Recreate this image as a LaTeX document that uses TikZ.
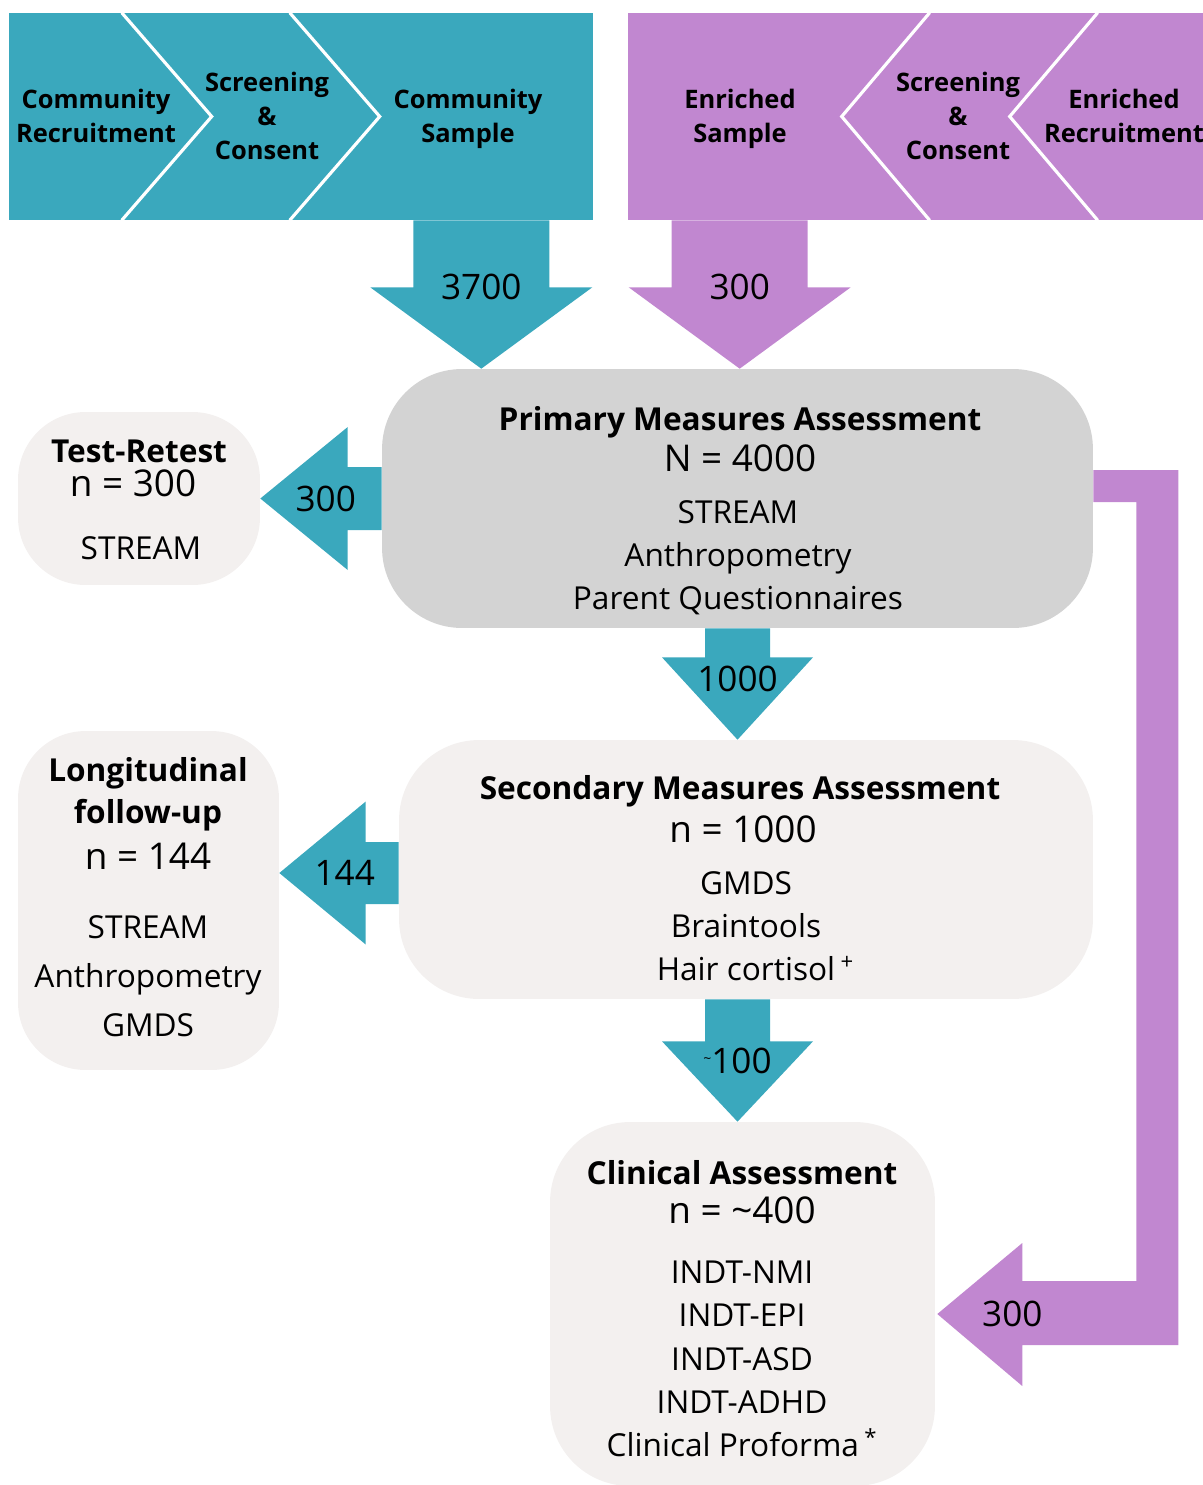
\documentclass[tikz,border=0pt]{standalone}
\usepackage{fontspec}
\setmainfont{Open Sans}
\usetikzlibrary{positioning}
\usetikzlibrary{calc}
\definecolor{flowteal}{RGB}{58,168,189}
\definecolor{flowpurple}{RGB}{193,135,208}
\definecolor{primgray}{RGB}{211,211,211}
\definecolor{boxwhite}{RGB}{243,240,239}
\tikzset{stagebox/.style={ % rounded boxes of the assessments
draw=none, inner sep=0pt,
fill=boxwhite,
rounded corners=1.6cm},
banner/.style={draw=none, inner sep=0pt, minimum height=4.14cm}, % recruitment strips
divider/.style={draw=white, line width=1.8pt}, % chevron cuts in the strips
steptext/.style={align=center, font=\bfseries\fontsize{14.5}{19.4}\selectfont},
heading/.style={align=center, font=\bfseries\fontsize{18}{24}\selectfont},
ncount/.style={font=\fontsize{21}{24}\selectfont},
items/.style={align=center, font=\fontsize{18}{24.5}\selectfont},
flowlabel/.style={font=\fontsize{20}{22}\selectfont}}

\begin{document}
\begin{tikzpicture}[x=0.02cm, y=-0.02cm]
\useasboundingbox (0,0) rectangle (1203,1485);

% recruitment strips
\node[banner, fill=flowteal, minimum width=11.68cm] (comm) at (301,116.5) {};
\node[banner, fill=flowpurple, minimum width=11.62cm] (enr) at (918.5,116.5) {};
\foreach \dx in {113,281}
  \draw[divider] ($(comm.north west)+(\dx,0)$) -- ($(comm.west)+(\dx+90,0)$) -- ($(comm.south west)+(\dx,0)$);
\foreach \dx in {302,470}
  \draw[divider] ($(enr.north west)+(\dx,0)$) -- ($(enr.west)+(\dx-88,0)$) -- ($(enr.south west)+(\dx,0)$);

\node[steptext] (cRec) at (96,116) {Community\\Recruitment};
\node[steptext] (cScr) at (267,116) {Screening\\\&\\Consent};
\node[steptext] (cSam) at (468,119) {Community\\Sample};
\node[steptext] (eSam) at (740,119) {Enriched\\Sample};
\node[steptext] (eScr) at (958,116) {Screening\\\&\\Consent};
\node[steptext] (eRec) at (1124,116) {Enriched\\Recruitment};

% assessment boxes
\node[stagebox, fill=primgray, minimum width=14.22cm, minimum height=5.18cm] (prim) at (737.5,498.5) {};
\node[stagebox, rounded corners=1.35cm, minimum width=4.84cm, minimum height=3.46cm] (test) at (139,498.5) {};
\node[stagebox, minimum width=13.88cm, minimum height=5.18cm] (sec) at (746,869.5) {};
\node[stagebox, rounded corners=1.35cm, minimum width=5.22cm, minimum height=6.78cm] (longi) at (148.5,900.5) {};
\node[stagebox, minimum width=7.7cm, minimum height=7.28cm] (clin) at (742.5,1304) {};

% samples into the primary assessment
\coordinate (cOut) at ($(comm.south east)+(-112,0)$);
\fill[flowteal] ($(cOut)+(-68,0)$) -- ++(0,67) -- ++(-43,0) -- (cOut |- prim.north) -- ($(cOut)+(111,67)$) -- ++(-43,0) -- ($(cOut)+(68,0)$) -- cycle;
\coordinate (eOut) at ($(enr.south west)+(112,0)$);
\fill[flowpurple] ($(eOut)+(-68,0)$) -- ++(0,67) -- ++(-43,0) -- (eOut |- prim.north) -- ($(eOut)+(111,67)$) -- ++(-43,0) -- ($(eOut)+(68,0)$) -- cycle;
\node[flowlabel] (nComm) at ($(cOut)+(0,67)$) {3700};
\node[flowlabel] (nEnr) at ($(eOut)+(0,67)$) {300};

% primary to test-retest and secondary
\fill[flowteal] ($(prim.west)+(0,-31.5)$) -- ++(-34,0) -- ++(0,-40) -- (test.east) -- ($(prim.west)+(-34,71.5)$) -- ++(0,-40) -- ($(prim.west)+(0,31.5)$) -- cycle;
\node[flowlabel] (nTest) at ($(prim.west)+(-56,0)$) {300};
\fill[flowteal] ($(prim.south)+(-32.5,0)$) -- ++(0,29) -- ++(-43,0) -- (prim.south |- sec.north) -- ($(prim.south)+(75.5,29)$) -- ++(-43,0) -- ($(prim.south)+(32.5,0)$) -- cycle;
\node[flowlabel] (nSec) at ($(prim.south)+(0,51)$) {1000};

% secondary to longitudinal and clinical
\coordinate (sIn) at ($(sec.west)+(0,3.5)$);
\fill[flowteal] ($(sIn)+(0,-31)$) -- ++(-33,0) -- ++(0,-40.5) -- (longi.east |- sIn) -- ($(sIn)+(-33,71.5)$) -- ++(0,-40.5) -- ($(sIn)+(0,31)$) -- cycle;
\node[flowlabel] (nLong) at ($(sIn)+(-54,0)$) {144};
\coordinate (sOut) at (prim.south |- sec.south);
\fill[flowteal] ($(sOut)+(-32.5,0)$) -- ++(0,42) -- ++(-43,0) -- (prim.south |- clin.north) -- ($(sOut)+(75.5,42)$) -- ++(-43,0) -- ($(sOut)+(32.5,0)$) -- cycle;
\node[flowlabel] (nClin) at ($(sOut)+(0,62)$) {\raisebox{0.3em}{\fontsize{8}{8}\selectfont\textasciitilde}100};

% enriched sample straight to clinical
\coordinate (pIn) at ($(clin.east)+(2,10)$);
\fill[flowpurple] ($(prim.east)+(0,-28.5)$) -- ++(85,0) -- ++(0,875) -- ++(-156,0) -- ++(0,41) -- (pIn) -- ++(85,-71) -- ++(0,38) -- ++(114,0) -- ++(0,-779) -- ($(prim.east)+(0,3.5)$) -- cycle;
\node[flowlabel] (nPurp) at ($(pIn)+(75,0)$) {300};

% box texts
\node[heading] (primT) at (740,422) {Primary Measures Assessment};
\node[ncount] (primN) at (740,458) {N = 4000};
\node[items] (primL) at (738,558) {STREAM\\Anthropometry\\Parent Questionnaires};

\node[heading] (testT) at (139,451) {Test-Retest};
\node[ncount] (testN) at (133,483) {n = 300};
\node[items] (testL) at (141,548) {STREAM};

\node[heading] (secT) at (740,791) {Secondary Measures Assessment};
\node[ncount] (secN) at (743,829) {n = 1000};
\node[items] (secL) at (746,926) {GMDS\\Braintools\\Hair cortisol\rlap{\,\textsuperscript{+}}};

\node[heading] (longT) at (148,794) {Longitudinal\\follow-up};
\node[ncount] (longN) at (148,856) {n = 144};
\node[items, font=\fontsize{18}{28}\selectfont] (longL) at (148,976) {STREAM\\Anthropometry\\GMDS};

\node[heading] (clinT) at (742,1173) {Clinical Assessment};
\node[ncount] (clinN) at (742,1210) {n = \textasciitilde400};
\node[items, font=\fontsize{18}{24.7}\selectfont] (clinL) at (742,1359) {INDT-NMI\\INDT-EPI\\INDT-ASD\\INDT-ADHD\\Clinical Proforma\,\textsuperscript{*}};
\end{tikzpicture}
\end{document}
